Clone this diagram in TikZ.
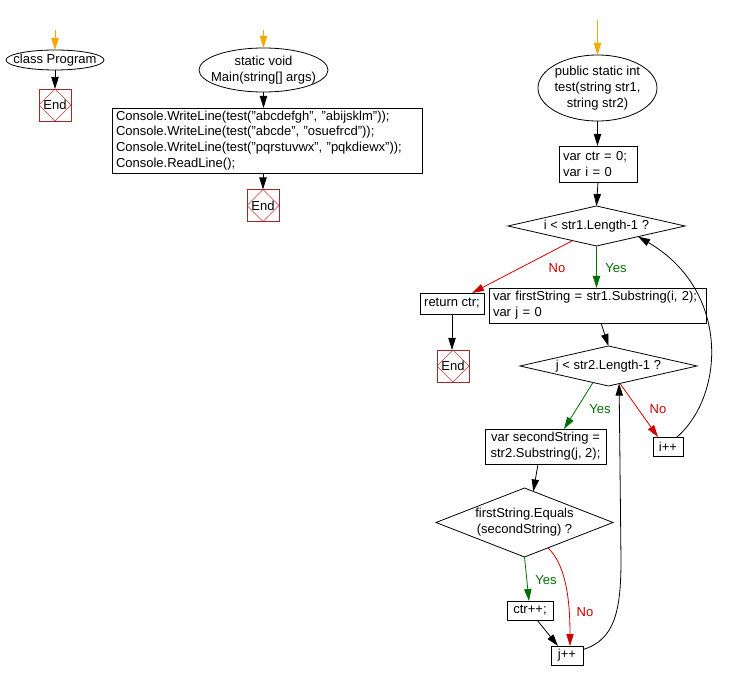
\documentclass[tikz,border=0pt]{standalone}
\usepackage{fontspec}
\setmainfont{Liberation Sans}
\usetikzlibrary{shapes.geometric,arrows.meta,calc}
\definecolor{flowgreen}{RGB}{0,110,0}
\definecolor{flowred}{RGB}{204,0,0}
\definecolor{flowor}{RGB}{255,165,0}
\definecolor{endsq}{RGB}{160,40,40}
\definecolor{enddia}{RGB}{210,50,50}
\begin{document}
\begin{tikzpicture}[x=0.75pt,y=-0.75pt,
  font=\fontsize{9.75}{11.8}\selectfont,
  every node/.style={inner sep=0pt, outer sep=0pt},
  ell/.style={ellipse, draw, line width=0.6pt},
  dia/.style={diamond, draw, line width=0.6pt},
  pbox/.style={rectangle, draw, line width=0.6pt},
  lbox/.style={pbox, align=left, inner xsep=3pt},
  endbox/.style={rectangle, draw=endsq, line width=0.6pt, minimum width=24pt, minimum height=24pt,
    path picture={\draw[enddia, line width=0.5pt] (path picture bounding box.north) -- (path picture bounding box.east) -- (path picture bounding box.south) -- (path picture bounding box.west) -- cycle;}},
  arr/.style={draw, line width=0.6pt, -{Triangle[length=9pt,width=5.5pt]}},
  oarr/.style={arr, draw=flowor},
  garr/.style={arr, draw=flowgreen},
  rarr/.style={arr, draw=flowred},
  ylab/.style={text=flowgreen},
  nlab/.style={text=flowred}
]
\path[use as bounding box] (0,0) rectangle (740,681);

% class Program
\node[ell, minimum width=73.5pt, minimum height=15pt] (cp) at (55,60) {};
\node (cpt) at (cp) {class Program};
\node[endbox] (e1) at (55,105) {End};
\coordinate (o1) at (55,30);
\draw[oarr] (o1) -- (cp.north);
\draw[arr] (cp.south) -- (e1.north);

% Main
\node[ell, minimum width=96.75pt, minimum height=33pt] (mainell) at (263.5,70) {};
\node[align=center] (maint) at (mainell) {static void\\Main(string[] args)};
\node[lbox, text width=226.5pt, minimum height=48.75pt] (mainbox) at (267,140.5)
  {Console.WriteLine(test("abcdefgh", "abijsklm"));\\
   Console.WriteLine(test("abcde", "osuefrcd"));\\
   Console.WriteLine(test("pqrstuvwx", "pqkdiewx"));\\
   Console.ReadLine();};
\node[endbox] (e2) at (263,205.5) {End};
\coordinate (o2) at (263.5,30);
\draw[oarr] (o2) -- (mainell.north);
\draw[arr] (mainell.south) -- (mainell.south |- mainbox.north);
\draw[arr] (mainbox.south -| e2) -- (e2.north);

% test
\node[ell, minimum width=89.25pt, minimum height=49.5pt] (testell) at (597.5,88) {};
\node[align=center] (testt) at (testell) {public static int\\test(string str1,\\string str2)};
\node[lbox, text width=52.5pt, minimum height=27pt] (ctrbox) at (598,164) {var ctr = 0;\\var i = 0};
\node[dia, minimum width=132.75pt, minimum height=30pt] (d1) at (596.5,226) {};
\node (d1t) at (d1) {i < str1.Length-1 ?};
\node[lbox, text width=156.75pt, minimum height=26.25pt] (fs) at (597.5,305.5) {var firstString = str1.Substring(i, 2);\\var j = 0};
\node[pbox, minimum width=48pt, minimum height=15.75pt] (ret) at (452,303.5) {return ctr;};
\node[endbox] (e3) at (453,366) {End};
\node[dia, minimum width=132.75pt, minimum height=30pt] (d2) at (608.5,366) {};
\node (d2t) at (d2) {j < str2.Length-1 ?};
\node[pbox, align=center, minimum width=90.75pt, minimum height=26.25pt] (sb) at (545.5,446.5) {var secondString =\\str2.Substring(j, 2);};
\node[pbox, minimum width=22.5pt, minimum height=14.25pt] (ipp) at (668,446.5) {i++};
\node[dia, minimum width=132.75pt, minimum height=51.75pt] (d3) at (524.5,522.5) {};
\node[align=center] (d3t) at (d3) {firstString.Equals\\(secondString) ?};
\node[pbox, minimum width=34.5pt, minimum height=14.25pt] (ctr) at (530,610.5) {ctr++;};
\node[pbox, minimum width=24pt, minimum height=14.25pt] (jpp) at (567,655.5) {j++};

\coordinate (o3) at (597.5,20);
\draw[oarr] (o3) -- (testell.north);
\draw[arr] (testell.south) -- (testell.south |- ctrbox.north);
\draw[arr] (ctrbox.south) -- (d1.north);
\draw[garr] (d1.south) -- (d1.south |- fs.north);
\draw[rarr] ($(d1.south)!0.27!(d1.west)$) -- ($(ret.north)+(20,0)$);
\draw[arr] (ret.south) -- (ret.south |- e3.north);
\draw[arr] ($(fs.south)+(3.5,0)$) -- (d2.north);
\draw[garr] ($(d2.south)!0.175!(d2.west)$) -- ($(sb.north)+(18.5,0)$);
\draw[rarr] ($(d2.south)!0.13!(d2.east)$) -- ($(ipp.north)+(-10,0)$);
\draw[arr] ($(ipp.north)+(9,0)$) .. controls (725,395) and (730,290) .. ($(d1.south)!0.47!(d1.east)$);
\draw[arr] ($(sb.south)+(-7.5,0)$) -- ($(d3.north)!0.1!(d3.east)$);
\draw[garr] (d3.south) -- ($(ctr.north)+(-1,0)$);
\draw[rarr] ($(d3.south)!0.265!(d3.east)$) .. controls (566,565) and (570,600) .. ($(jpp.north)+(3,0)$);
\draw[arr] ($(ctr.south)+(7,0)$) -- ($(jpp.north)+(-9,0)$);
\draw[arr] ($(jpp.east)+(0,-6)$) .. controls (615,640) and (621,610) .. (621,560) -- ($(d2.south)!0.12!(d2.east)$);

% labels
\node[nlab] (l1) at (557,268) {No};
\node[ylab] (l2) at (616,268) {Yes};
\node[ylab] (l3) at (600,409) {Yes};
\node[nlab] (l4) at (658,409) {No};
\node[ylab] (l5) at (546,580) {Yes};
\node[nlab] (l6) at (585,612) {No};
\end{tikzpicture}
\end{document}
